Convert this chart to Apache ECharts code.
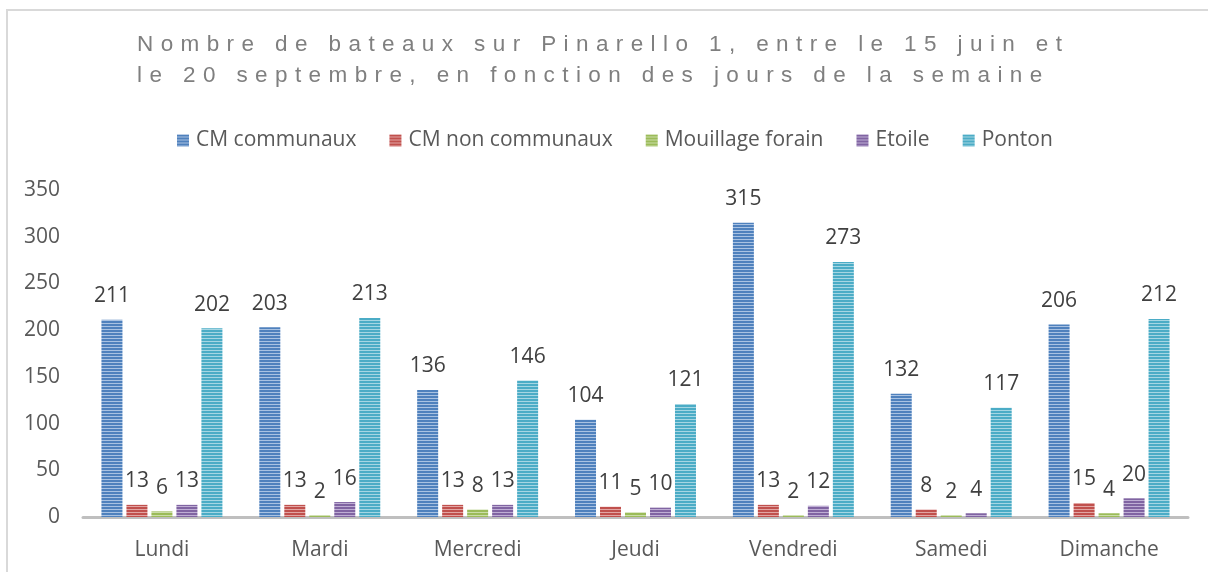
<!DOCTYPE html>
<html>
<head>
<meta charset="utf-8">
<script src="https://cdn.jsdelivr.net/npm/echarts@6/dist/echarts.min.js"></script>
<style>
  html, body { margin: 0; padding: 0; background: #fff; }
  #wrap { position: relative; width: 1208px; height: 572px; }
  #chart { width: 1208px; height: 572px; }
  #title {
    position: absolute; left: 137px; top: 28px;
    font-family: "Liberation Sans", Arial, sans-serif;
    font-size: 22.5px; line-height: 31px; letter-spacing: 7.4px;
    color: #7f7f7f; white-space: pre; pointer-events: none;
  }
</style>
</head>
<body>
<div id="wrap">
  <div id="chart"></div>
  <div id="title">Nombre de bateaux sur Pinarello 1, entre le 15 juin et
le 20 septembre, en fonction des jours de la semaine</div>
</div>
<script>
// données
const jours = ['Lundi', 'Mardi', 'Mercredi', 'Jeudi', 'Vendredi', 'Samedi', 'Dimanche'];
const cmCommunaux = [211, 203, 136, 104, 315, 132, 206];
const cmNonCommunaux = [13, 13, 13, 11, 13, 8, 15];
const mouillageForain = [6, 2, 8, 5, 2, 2, 4];
const etoile = [13, 16, 13, 10, 12, 4, 20];
const ponton = [202, 213, 146, 121, 273, 117, 212];
const yTicks = [0, 50, 100, 150, 200, 250, 300, 350];

// hachures horizontales façon Excel
function stripes(base, light) {
  const c = document.createElement('canvas');
  c.width = 4; c.height = 3;
  const ctx = c.getContext('2d');
  ctx.fillStyle = base; ctx.fillRect(0, 0, 4, 2);
  ctx.fillStyle = light; ctx.fillRect(0, 2, 4, 1);
  return { image: c, repeat: 'repeat' };
}

const font = '"Open Sans", "Noto Sans", sans-serif';
const chart = echarts.init(document.getElementById('chart'));

function serie(name, data, base, light) {
  return {
    name: name,
    type: 'bar',
    data: data,
    barWidth: 21,
    barGap: '19%',
    itemStyle: { color: stripes(base, light) },
    label: {
      show: true, position: 'top', distance: 13,
      color: '#404040', fontSize: 21, fontFamily: font
    }
  };
}

chart.setOption({
  animation: false,
  graphic: [{
    type: 'rect',
    shape: { x: 7, y: 10, width: 1240, height: 620 },
    style: { fill: 'none', stroke: '#d9d9d9', lineWidth: 2 },
    silent: true
  }],
  legend: {
    left: 177, top: 130, padding: 0,
    itemWidth: 12, itemHeight: 12, itemGap: 33,
    icon: 'rect',
    textStyle: { color: '#595959', fontSize: 21, fontFamily: font, padding: [0, 0, 0, 2] },
    data: ['CM communaux', 'CM non communaux', 'Mouillage forain', 'Etoile', 'Ponton']
  },
  grid: { left: 83, right: 20, top: 190, bottom: 55 },
  xAxis: {
    type: 'category',
    data: jours,
    axisLine: { lineStyle: { color: '#bfbfbf', width: 3 } },
    axisTick: { show: false },
    axisLabel: { color: '#595959', fontSize: 21, fontFamily: font, margin: 23 }
  },
  yAxis: {
    type: 'value',
    min: yTicks[0], max: yTicks[yTicks.length - 1], interval: 50,
    splitLine: { show: false },
    axisLine: { show: false },
    axisTick: { show: false },
    axisLabel: { color: '#595959', fontSize: 21, fontFamily: font, margin: 23 }
  },
  series: [
    serie('CM communaux', cmCommunaux, '#4f81bd', '#a9c2e2'),
    serie('CM non communaux', cmNonCommunaux, '#c0504d', '#e2a5a3'),
    serie('Mouillage forain', mouillageForain, '#9bbb59', '#cbdda8'),
    serie('Etoile', etoile, '#8064a2', '#bfaed4'),
    serie('Ponton', ponton, '#4bacc6', '#a5d6e3')
  ]
});
</script>
</body>
</html>
